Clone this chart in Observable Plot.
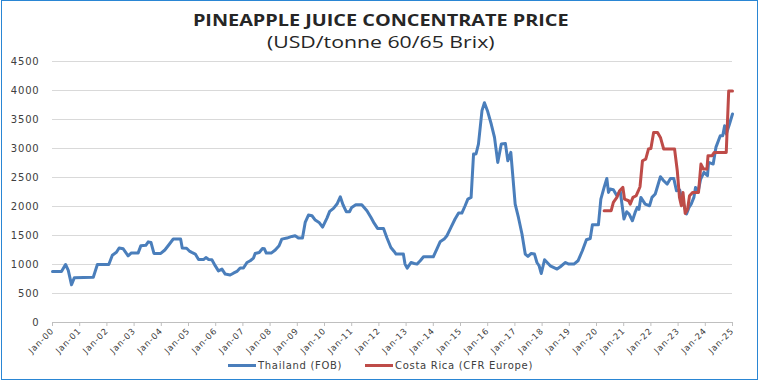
<!DOCTYPE html>
<html><head><meta charset="utf-8">
<script src="https://cdn.jsdelivr.net/npm/d3@7"></script>
<script src="https://cdn.jsdelivr.net/npm/@observablehq/plot@0.6"></script>
<style>
body{margin:0;background:#fff;}
#wrap{position:relative;width:760px;height:382px;overflow:hidden;background:#fff;font-family:"DejaVu Sans",sans-serif;}
#frame{position:absolute;left:1px;top:0;width:757px;height:380px;border:1.5px solid #2a86d4;box-sizing:border-box;pointer-events:none;}
#title{position:absolute;top:12px;left:1px;width:760px;text-align:center;font-family:"Open Sans",sans-serif;font-weight:700;font-size:16px;line-height:1;color:#262626;transform:scaleX(1.24);transform-origin:381px 0;}
#subtitle{position:absolute;top:33px;left:1px;width:760px;text-align:center;font-family:"Open Sans",sans-serif;font-weight:400;font-size:17px;line-height:1;color:#262626;transform:scaleX(1.25);transform-origin:381px 0;}
#plot{position:absolute;left:0;top:0;}
#plot svg text{letter-spacing:0.8px;}
#legend{position:absolute;top:360px;left:0;width:760px;font-size:10px;letter-spacing:0.7px;color:#404040;}
.item{position:absolute;top:0;white-space:nowrap;}
.sw{display:inline-block;width:28px;height:3px;vertical-align:middle;margin-right:2px;position:relative;top:-1px;}
</style>
</head><body>
<div id="wrap">
  <div id="title">PINEAPPLE JUICE CONCENTRATE PRICE</div>
  <div id="subtitle">(USD/tonne 60/65 Brix)</div>
  <div id="plot"></div>
  <div id="legend"></div>
  <div id="frame"></div>
</div>
<script>
const seriesNames = ["Thailand (FOB)", "Costa Rica (CFR Europe)"];
const seriesColors = ["#4a7ebb", "#be4b48"];
const yTicks = [0,500,1000,1500,2000,2500,3000,3500,4000,4500];
const xYears = [2000,2001,2002,2003,2004,2005,2006,2007,2008,2009,2010,2011,2012,2013,2014,2015,2016,2017,2018,2019,2020,2021,2022,2023,2024,2025];

// Thailand (FOB): time in years, USD/tonne
const thaiT = [2000.00,2000.33,2000.48,2000.58,2000.70,2000.80,2001.50,2001.65,2002.07,2002.20,2002.35,2002.45,2002.60,2002.78,2002.90,2003.15,2003.25,2003.43,2003.52,2003.62,2003.73,2003.98,2004.13,2004.28,2004.44,2004.71,2004.77,2004.93,2005.05,2005.12,2005.25,2005.37,2005.55,2005.64,2005.74,2005.86,2005.98,2006.10,2006.23,2006.35,2006.53,2006.65,2006.78,2006.90,2007.02,2007.15,2007.27,2007.39,2007.45,2007.60,2007.72,2007.79,2007.86,2008.04,2008.19,2008.33,2008.43,2008.62,2008.80,2008.92,2009.04,2009.19,2009.29,2009.41,2009.54,2009.66,2009.80,2009.93,2010.09,2010.19,2010.33,2010.46,2010.58,2010.68,2010.80,2010.92,2011.00,2011.15,2011.37,2011.56,2011.71,2011.83,2011.95,2012.17,2012.29,2012.44,2012.56,2012.63,2012.90,2012.96,2013.04,2013.18,2013.30,2013.40,2013.52,2013.64,2014.00,2014.13,2014.25,2014.40,2014.50,2014.65,2014.80,2014.93,2015.05,2015.17,2015.27,2015.39,2015.48,2015.57,2015.66,2015.79,2015.88,2015.99,2016.13,2016.25,2016.37,2016.50,2016.65,2016.74,2016.85,2017.01,2017.13,2017.26,2017.38,2017.48,2017.60,2017.72,2017.81,2017.89,2017.97,2018.09,2018.30,2018.55,2018.67,2018.86,2018.98,2019.17,2019.32,2019.48,2019.63,2019.77,2019.85,2020.07,2020.16,2020.28,2020.38,2020.44,2020.50,2020.62,2020.75,2020.87,2021.01,2021.11,2021.20,2021.32,2021.42,2021.50,2021.56,2021.63,2021.79,2021.95,2022.04,2022.16,2022.35,2022.47,2022.60,2022.72,2022.84,2022.94,2023.06,2023.15,2023.24,2023.31,2023.40,2023.48,2023.58,2023.64,2023.73,2023.83,2023.95,2024.08,2024.12,2024.29,2024.39,2024.55,2024.64,2024.71,2024.77,2024.89,2025.00];
const thaiV = [880,880,1000,900,650,770,780,1000,1000,1160,1210,1285,1270,1150,1200,1200,1325,1330,1390,1380,1190,1190,1250,1340,1440,1440,1285,1280,1225,1208,1180,1085,1085,1120,1085,1080,980,890,920,835,818,850,880,940,940,1035,1065,1110,1190,1208,1277,1270,1197,1197,1250,1323,1438,1456,1484,1496,1456,1456,1725,1853,1840,1766,1725,1645,1800,1915,1967,2042,2168,2030,1910,1910,1984,2030,2030,1927,1811,1708,1622,1622,1466,1294,1225,1180,1180,1007,938,1035,1018,1007,1064,1133,1133,1266,1392,1438,1496,1639,1784,1887,1887,2013,2128,2157,2905,2905,3077,3652,3790,3652,3422,3191,2760,3077,3088,2789,2933,2042,1811,1525,1180,1139,1190,1180,1035,978,845,1082,978,921,961,1035,1007,1007,1064,1237,1427,1449,1685,1685,2128,2329,2484,2243,2301,2290,2186,2272,1784,1910,1870,1754,1898,1984,1950,2157,2042,2013,2157,2215,2513,2444,2387,2484,2484,2272,2284,2099,1984,1870,1984,2042,2157,2329,2243,2473,2588,2531,2760,2732,3019,3220,3220,3393,3250,3422,3595];

// Costa Rica (CFR Europe)
const costaT = [2020.28,2020.54,2020.62,2020.75,2020.85,2020.97,2021.03,2021.18,2021.24,2021.34,2021.46,2021.54,2021.60,2021.69,2021.81,2021.91,2022.00,2022.10,2022.24,2022.35,2022.47,2022.87,2022.97,2023.05,2023.12,2023.18,2023.26,2023.35,2023.42,2023.54,2023.75,2023.84,2023.93,2024.06,2024.10,2024.25,2024.33,2024.77,2024.86,2025.00];
const costaV = [1927,1927,2070,2157,2272,2329,2128,2099,2042,2157,2186,2272,2341,2789,2818,2991,3000,3278,3278,3191,2991,2991,2617,2157,2013,2243,1880,1956,2186,2243,2243,2732,2646,2646,2876,2876,2933,2933,3990,3990];

const thai = thaiT.map((t,i)=>({t, v:thaiV[i]}));
const costa = costaT.map((t,i)=>({t, v:costaV[i]}));

const chart = Plot.plot({
  width: 760,
  height: 358,
  marginLeft: 52,
  marginRight: 28,
  marginTop: 61,
  marginBottom: 36,
  style: {fontFamily: "DejaVu Sans, sans-serif", fontSize: "10px", color: "#404040", background: "transparent"},
  x: {type: "linear", domain: [2000, 2025]},
  y: {domain: [0, 4500]},
  marks: [
    Plot.gridY(yTicks, {stroke: "#d9d9d9", strokeOpacity: 1, strokeWidth: 1}),
    Plot.ruleY([0], {stroke: "#bfbfbf", strokeWidth: 1}),
    Plot.axisY(yTicks, {tickSize: 0, tickPadding: 13, label: null, fontSize: 10, fill: "#404040", tickFormat: d => String(d)}),
    Plot.axisX(xYears, {tickSize: 4, stroke: "#bfbfbf", tickPadding: 3, tickRotate: -45, label: null, fontSize: 8.5, fill: "#404040",
      tickFormat: d => "Jan-" + String(d % 100).padStart(2, "0")}),
    Plot.line(thai, {x: "t", y: "v", stroke: seriesColors[0], strokeWidth: 3, strokeLinejoin: "round"}),
    Plot.line(costa, {x: "t", y: "v", stroke: seriesColors[1], strokeWidth: 3, strokeLinejoin: "round"})
  ]
});
document.getElementById("plot").appendChild(chart);

const legend = document.getElementById("legend");
const lefts = [228, 365];
seriesNames.forEach((n, i) => {
  const d = document.createElement("div");
  d.className = "item";
  d.style.left = lefts[i] + "px";
  d.innerHTML = `<span class="sw" style="background:${seriesColors[i]}"></span>${n}`;
  legend.appendChild(d);
});
</script>
</body></html>
